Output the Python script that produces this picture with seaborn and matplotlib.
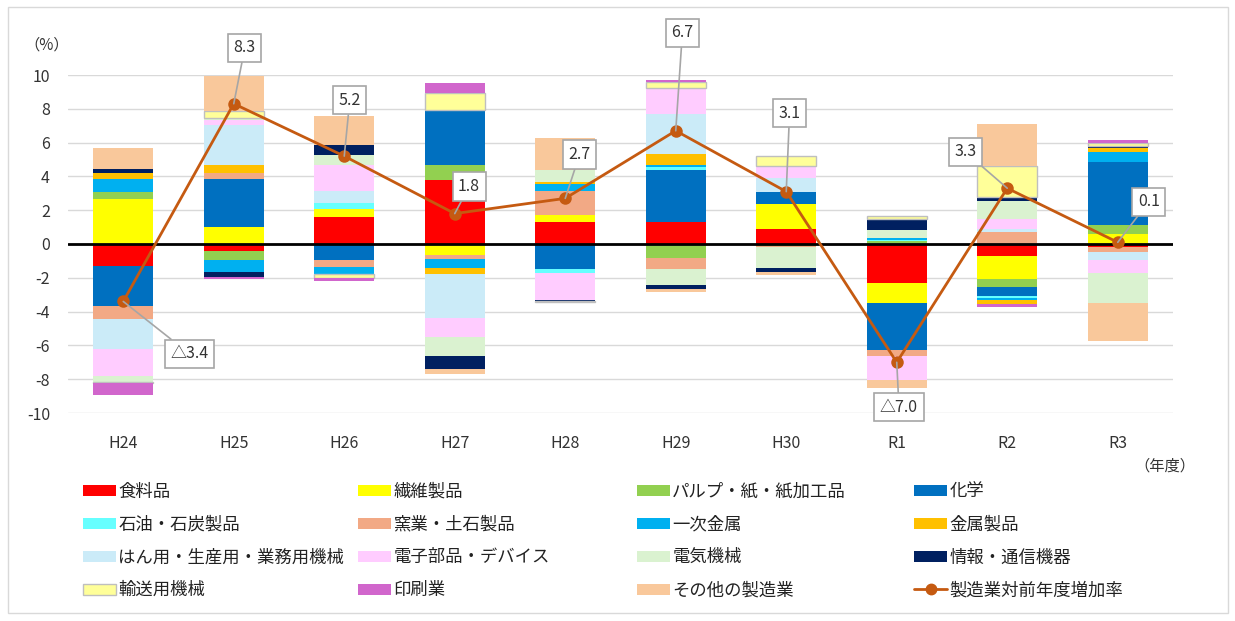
import numpy as np
import pandas as pd
import matplotlib
matplotlib.use("Agg")
import matplotlib.pyplot as plt
from matplotlib.patches import Rectangle, Patch
from matplotlib.lines import Line2D
import seaborn as sns

years = ["H24", "H25", "H26", "H27", "H28", "H29", "H30", "R1", "R2", "R3"]

categories = ["食料品", "繊維製品", "パルプ・紙・紙加工品", "化学",
              "石油・石炭製品", "窯業・土石製品", "一次金属", "金属製品",
              "はん用・生産用・業務用機械", "電子部品・デバイス", "電気機械", "情報・通信機器",
              "輸送用機械", "印刷業", "その他の製造業"]

food      = [-1.30, -0.40, 1.60, 3.80, 1.30, 1.30, 0.90, -2.30, -0.70, -0.15]
textile   = [2.65, 1.00, 0.50, -0.65, 0.40, 0.00, 1.45, -1.20, -1.40, 0.60]
pulp      = [0.45, -0.55, 0.00, 0.85, 0.00, -0.80, -0.10, 0.15, -0.45, 0.50]
chemical  = [-2.35, 2.85, -0.95, 3.30, -1.50, 3.10, 0.70, -2.80, -0.55, 3.75]
petroleum = [0.00, 0.00, 0.30, 0.00, -0.20, 0.15, 0.05, 0.10, -0.10, 0.00]
ceramic   = [-0.80, 0.35, -0.40, -0.25, 1.45, -0.70, -0.05, -0.30, 0.70, -0.30]
primary   = [0.75, -0.70, -0.40, -0.50, 0.40, 0.15, 0.00, 0.10, -0.10, 0.60]
metal     = [0.35, 0.45, 0.00, -0.35, 0.10, 0.60, -0.05, 0.00, -0.25, 0.25]
machinery = [-1.75, 2.40, 0.75, -2.60, 0.00, 2.40, 0.80, 0.00, 0.20, -0.50]
electronic= [-1.60, 0.30, 1.55, -1.15, -1.60, 1.55, 0.70, -1.45, 0.55, -0.75]
electrical= [-0.35, 0.10, 0.55, -1.10, 0.75, -0.95, -1.20, 0.45, 1.10, -1.80]
infocomm  = [0.25, -0.30, 0.60, -0.80, -0.10, -0.20, -0.25, 0.70, 0.25, 0.10]
transport = [-0.05, 0.40, -0.25, 1.00, -0.05, 0.35, 0.60, 0.15, 1.80, 0.20]
printing  = [-0.75, -0.15, -0.20, 0.55, 0.00, 0.12, 0.00, 0.00, -0.15, 0.15]
other     = [1.25, 2.10, 1.75, -0.30, 1.90, -0.20, -0.20, -0.45, 2.50, -2.25]

rate = [-3.4, 8.3, 5.2, 1.8, 2.7, 6.7, 3.1, -7.0, 3.3, 0.1]
rate_name = "製造業対前年度増加率"

series = [food, textile, pulp, chemical, petroleum, ceramic, primary, metal,
          machinery, electronic, electrical, infocomm, transport, printing, other]

colors = ["#FF0000", "#FFFF00", "#92D050", "#0070C0", "#66FFFF", "#F2A985",
          "#00B0F0", "#FFC000", "#CBEBF8", "#FFCCFF", "#DAF2D0", "#002060",
          "#FFFF99", "#D166CC", "#F9C89B"]
line_color = "#C55A11"

sns.set_theme(style="white")
plt.rcParams['font.family'] = ['Noto Sans CJK JP', 'DejaVu Sans']
text_color = "#333333"

W, H = 1235, 621
fig = plt.figure(figsize=(W / 100, H / 100), dpi=100)
ax = fig.add_axes([68 / W, 1 - 413 / H, (1173 - 68) / W, (413 - 75) / H])

pos = np.zeros(len(years))
neg = np.zeros(len(years))
for name, vals, col in zip(categories, series, colors):
    v = np.array(vals, dtype=float)
    bottom = np.where(v >= 0, pos, neg)
    edge = "#BFBFBF" if name == "輸送用機械" else col
    lw = 1.0 if name == "輸送用機械" else 0
    sns.barplot(x=years, y=v, order=years, bottom=bottom, color=col,
                saturation=1, width=0.54, errorbar=None, ax=ax,
                edgecolor=edge, linewidth=lw, zorder=2)
    pos = pos + np.where(v >= 0, v, 0)
    neg = neg + np.where(v < 0, v, 0)

sns.pointplot(x=years, y=rate, order=years, color=line_color, markers="o",
              markersize=7.5, linewidth=2, errorbar=None, ax=ax, zorder=5)

ax.set_xlim(-0.5, 9.5)
ax.set_ylim(-10, 10)
ax.set_yticks(np.arange(-10, 11, 2))
ax.set_yticklabels([str(t) for t in range(-10, 11, 2)])
ax.yaxis.grid(True, color="#D9D9D9", linewidth=1.0, zorder=0)
ax.set_axisbelow(True)
ax.xaxis.grid(False)
ax.axhline(0, color="black", linewidth=2, zorder=3)
for s in ax.spines.values():
    s.set_visible(False)
ax.tick_params(axis="both", length=0, labelsize=11.5, colors=text_color)
ax.tick_params(axis="y", pad=13)
ax.tick_params(axis="x", pad=16)
ax.set_xlabel("")
ax.set_ylabel("")

# data labels
label_pos = [(0.60, -6.5), (1.10, 11.6), (2.05, 8.5), (3.13, 3.4), (4.13, 5.3),
             (5.06, 12.5), (6.03, 7.75), (7.02, -9.65), (7.62, 5.45), (9.28, 2.5)]
for i, (r, (lx, ly)) in enumerate(zip(rate, label_pos)):
    txt = f"△{abs(r):.1f}" if r < 0 else f"{r:.1f}"
    ax.annotate(txt, xy=(i, r), xytext=(lx, ly), textcoords="data",
                ha="center", va="center", fontsize=11.5, color=text_color,
                annotation_clip=False, zorder=6,
                bbox=dict(boxstyle="square,pad=0.35", fc="white", ec="#A6A6A6", lw=1.2),
                arrowprops=dict(arrowstyle="-", color="#A6A6A6", lw=1.2,
                                shrinkA=0, shrinkB=0))

fig.text(47 / W, 1 - 45 / H, "（%）", ha="center", va="center",
         fontsize=11, color=text_color)
fig.text(1165 / W, 1 - 466 / H, "（年度）", ha="center", va="center",
         fontsize=11, color=text_color)

# legend: 4 columns placed on a grid
handles = []
for name, col in zip(categories, colors):
    if name == "輸送用機械":
        handles.append(Patch(facecolor=col, edgecolor="#BFBFBF", linewidth=1.0, label=name))
    else:
        handles.append(Patch(facecolor=col, edgecolor="none", label=name))
handles.append(Line2D([0], [0], color=line_color, linewidth=2, marker="o",
                      markersize=7.5, label=rate_name))
col_x = [80, 355, 634, 911]
for c in range(4):
    hs = [handles[r * 4 + c] for r in range(4)]
    fig.legend(handles=hs, loc="upper left",
               bbox_to_anchor=(col_x[c] / W, 1 - 479 / H),
               frameon=False, fontsize=12.5, handlelength=1.85, handleheight=0.6,
               handletextpad=0.15, labelspacing=0.86, borderpad=0.2,
               borderaxespad=0, labelcolor="#222222")

fig.patches.append(Rectangle((8 / W, 8 / H), (1228 - 8) / W, (614 - 8) / H,
                             transform=fig.transFigure, fill=False,
                             edgecolor="#D9D9D9", linewidth=1.0))

fig.savefig("out.png", dpi=100)
